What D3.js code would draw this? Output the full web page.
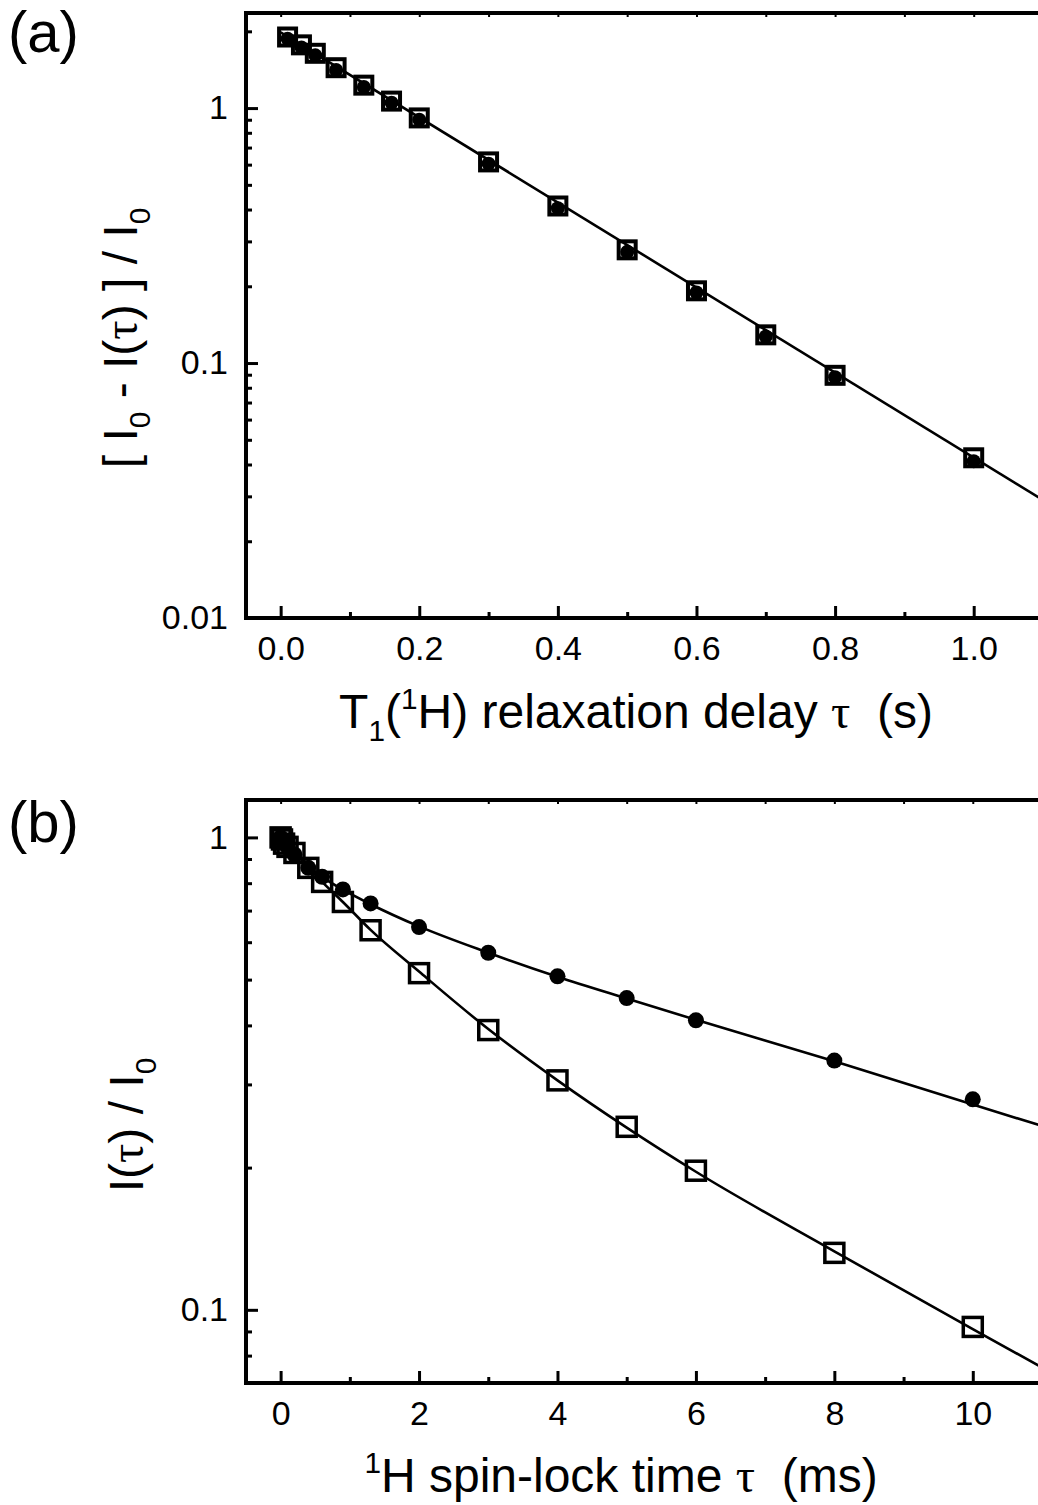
<!DOCTYPE html>
<html>
<head>
<meta charset="utf-8">
<script src="https://cdnjs.cloudflare.com/ajax/libs/d3/7.8.5/d3.min.js"></script>
<style>
  body { margin: 0; background: #fff; }
  svg { display: block; }
  text { font-family: 'Liberation Sans', Arial, sans-serif; white-space: pre; fill: #000; }
</style>
</head>
<body>
<svg id="svg" width="1038" height="1505"></svg>
<script>
// panel (a): T1(1H) relaxation, log of [I0 - I(tau)] / I0
const tauA = [0.01, 0.03, 0.05, 0.08, 0.12, 0.16, 0.2, 0.3, 0.4, 0.5, 0.6, 0.7, 0.8, 1.0];
const squaresA = [1.90, 1.77, 1.64, 1.44, 1.23, 1.065, 0.915, 0.615, 0.413, 0.278, 0.192, 0.129, 0.0895, 0.0425];
const circlesA = [1.87, 1.73, 1.61, 1.41, 1.21, 1.05, 0.90, 0.605, 0.405, 0.273, 0.189, 0.127, 0.088, 0.0412];
const fitTauA = [0, 1.1];
const fitA = [1.98, 0.029];

const xTicksA = [0, 0.2, 0.4, 0.6, 0.8, 1.0];
const xMinorA = [0.1, 0.3, 0.5, 0.7, 0.9, 1.1];
const yTicksA = [0.01, 0.1, 1];
const yMinorA = [0.02, 0.03, 0.04, 0.05, 0.06, 0.07, 0.08, 0.09,
                 0.2, 0.3, 0.4, 0.5, 0.6, 0.7, 0.8, 0.9, 2];

// panel (b): 1H spin-lock decay, I(tau) / I0
const tauB = [0, 0.02, 0.05, 0.1, 0.2, 0.4, 0.6, 0.9, 1.3, 2, 3, 4, 5, 6, 8, 10];
const circlesB = [1.0, 0.99, 0.975, 0.955, 0.92, 0.862, 0.825, 0.776, 0.725, 0.646, 0.570, 0.508, 0.457, 0.410, 0.337, 0.279];
const squaresB = [1.0, 0.99, 0.97, 0.955, 0.927, 0.862, 0.805, 0.73, 0.636, 0.516, 0.391, 0.306, 0.244, 0.197, 0.132, 0.092];
const fitTauB = [0, 0.2, 0.4, 0.6, 0.9, 1.3, 2, 3, 4, 5, 6, 8, 10, 11];
const fitCircB = [1.0, 0.93, 0.87, 0.825, 0.775, 0.722, 0.648, 0.570, 0.507, 0.456, 0.411, 0.336, 0.272, 0.245];
const fitSqB = [1.0, 0.93, 0.865, 0.805, 0.73, 0.637, 0.52, 0.393, 0.306, 0.243, 0.196, 0.133, 0.091, 0.0755];

const xTicksB = [0, 2, 4, 6, 8, 10];
const xMinorB = [1, 3, 5, 7, 9, 11];
const yTicksB = [0.1, 1];
const yMinorB = [0.08, 0.09, 0.2, 0.3, 0.4, 0.5, 0.6, 0.7, 0.8, 0.9];

const svg = d3.select('#svg');
const tauFont = "'Liberation Serif', 'DejaVu Serif', serif";

const addRichText = function(g, parts, size) {
  const t = g.append('text').attr('font-size', size).attr('text-anchor', 'middle');
  let shift = 0;
  parts.forEach(([str, kind]) => {
    const target = kind === 'sub' ? 0.27 * size : kind === 'sup' ? -0.40 * size : 0;
    const ts = t.append('tspan').text(str).attr('dy', target - shift);
    if (kind === 'sub' || kind === 'sup') ts.attr('font-size', size * 0.62);
    if (kind === 'tau') ts.attr('font-family', tauFont);
    shift = target;
  });
  return t;
};

const styleAxis = function(sel, width) {
  sel.select('.domain').remove();
  sel.selectAll('.tick line').attr('stroke', '#000').attr('stroke-width', width);
  sel.selectAll('.tick text')
    .attr('font-size', 34)
    .attr('font-family', "'Liberation Sans', Arial, sans-serif");
};

const drawPanel = function(p) {
  const w = p.width;
  const h = p.height;
  const x = d3.scaleLinear().domain(p.xDomain).range([0, w]);
  const y = d3.scaleLog().domain(p.yDomain).range([h, 0]);
  const g = svg.append('g').attr('transform', `translate(${p.left},${p.top})`);

  g.append('clipPath').attr('id', p.id + '-clip')
    .append('rect').attr('width', w).attr('height', h);

  // axes, ticks pointing inward
  g.append('g').attr('transform', `translate(0,${h})`)
    .call(d3.axisBottom(x).tickValues(p.xTicks).tickSizeInner(-12).tickSizeOuter(0)
      .tickPadding(18).tickFormat(p.xFormat))
    .call(s => styleAxis(s, 3));
  g.append('g').attr('transform', `translate(0,${h})`)
    .call(d3.axisBottom(x).tickValues(p.xMinor).tickSizeInner(-6).tickSizeOuter(0).tickFormat(''))
    .call(s => styleAxis(s, 3));
  g.append('g')
    .call(d3.axisTop(x).tickValues(p.xTicks.concat(p.xMinor)).tickSizeInner(-4).tickSizeOuter(0).tickFormat(''))
    .call(s => styleAxis(s, 2));
  g.append('g')
    .call(d3.axisLeft(y).tickValues(p.yTicks).tickSizeInner(-12).tickSizeOuter(0)
      .tickPadding(18).tickFormat(d3.format('~g')))
    .call(s => styleAxis(s, 3));
  g.append('g')
    .call(d3.axisLeft(y).tickValues(p.yMinor).tickSizeInner(-6).tickSizeOuter(0).tickFormat(''))
    .call(s => styleAxis(s, 3));

  g.append('rect')
    .attr('width', w).attr('height', h)
    .attr('fill', 'none').attr('stroke', '#000').attr('stroke-width', 4);

  // fit curves
  const line = d3.line()
    .x(d => x(d[0]))
    .y(d => y(d[1]))
    .curve(d3.curveMonotoneX);
  const fits = g.append('g').attr('clip-path', `url(#${p.id}-clip)`);
  p.fits.forEach(f => {
    fits.append('path')
      .datum(d3.zip(f.tau, f.values))
      .attr('d', line)
      .attr('fill', 'none')
      .attr('stroke', '#000')
      .attr('stroke-width', 2.6);
  });

  // open squares
  const s = p.squareSize;
  g.append('g').selectAll('rect')
    .data(d3.zip(p.tau, p.squares))
    .join('rect')
    .attr('x', d => x(d[0]) - s / 2)
    .attr('y', d => y(d[1]) - s / 2)
    .attr('width', s)
    .attr('height', s)
    .attr('fill', 'none')
    .attr('stroke', '#000')
    .attr('stroke-width', p.squareStroke);

  // filled circles
  g.append('g').selectAll('circle')
    .data(d3.zip(p.tau, p.circles))
    .join('circle')
    .attr('cx', d => x(d[0]))
    .attr('cy', d => y(d[1]))
    .attr('r', p.radius)
    .attr('fill', '#000');

  // titles
  addRichText(svg.append('g').attr('transform', `translate(${p.xTitlePos[0]},${p.xTitlePos[1]})`),
    p.xTitle, p.titleSize);
  addRichText(svg.append('g').attr('transform', `translate(${p.yTitlePos[0]},${p.yTitlePos[1]}) rotate(-90)`),
    p.yTitle, p.titleSize);
  svg.append('text')
    .attr('x', p.labelPos[0]).attr('y', p.labelPos[1])
    .attr('font-size', 58)
    .text(p.label);
};

drawPanel({
  id: 'a', label: '(a)', labelPos: [8, 52],
  left: 246, top: 13, width: 797, height: 605,
  xDomain: [-0.05, 1.1], yDomain: [0.01, 2.36],
  xTicks: xTicksA, xMinor: xMinorA, yTicks: yTicksA, yMinor: yMinorA,
  xFormat: d3.format('.1f'),
  tau: tauA, squares: squaresA, circles: circlesA,
  fits: [{ tau: fitTauA, values: fitA }],
  squareSize: 17, squareStroke: 4, radius: 7,
  titleSize: 48,
  xTitle: [['T', ''], ['1', 'sub'], ['(', ''], ['1', 'sup'], ['H) relaxation delay ', ''], ['\u03c4', 'tau'], ['  (s)', '']],
  xTitlePos: [636, 728],
  yTitle: [['[ I', ''], ['0', 'sub'], [' - I(', ''], ['\u03c4', 'tau'], [') ] / I', ''], ['0', 'sub']],
  yTitlePos: [137, 338]
});

drawPanel({
  id: 'b', label: '(b)', labelPos: [8, 842],
  left: 246, top: 800, width: 796, height: 583,
  xDomain: [-0.5, 11], yDomain: [0.07, 1.2],
  xTicks: xTicksB, xMinor: xMinorB, yTicks: yTicksB, yMinor: yMinorB,
  xFormat: d3.format('d'),
  tau: tauB, squares: squaresB, circles: circlesB,
  fits: [{ tau: fitTauB, values: fitCircB }, { tau: fitTauB, values: fitSqB }],
  squareSize: 19, squareStroke: 3.5, radius: 8,
  titleSize: 48,
  xTitle: [['1', 'sup'], ['H spin-lock time ', ''], ['\u03c4', 'tau'], ['  (ms)', '']],
  xTitlePos: [621, 1492],
  yTitle: [['I(', ''], ['\u03c4', 'tau'], [') / I', ''], ['0', 'sub']],
  yTitlePos: [143, 1125]
});
</script>
</body>
</html>
